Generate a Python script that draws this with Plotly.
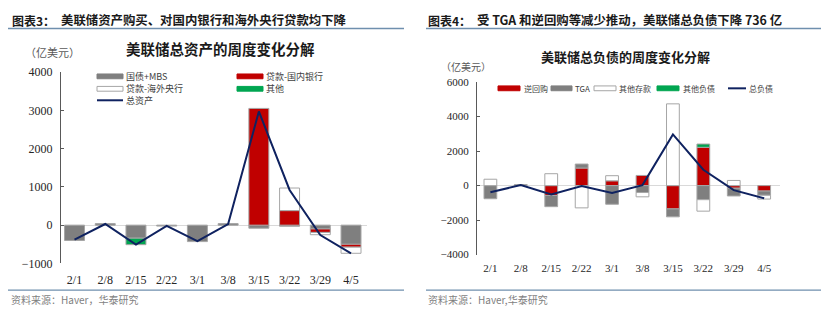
import plotly.graph_objects as go

W, H = 832, 324

# ---------------- data ----------------
dates = ["2/1", "2/8", "2/15", "2/22", "3/1", "3/8", "3/15", "3/22", "3/29", "4/5"]

# assets (left chart), 亿美元
treasury_mbs = [-400, 40, -340, -25, -430, 40, -80, -30, -100, -500]
loans_domestic = [None, None, None, None, None, None, 3050, 380, -90, -75]
loans_foreign = [None, None, None, None, None, None, None, 590, -60, -160]
other_assets = [None, None, -170, None, None, None, None, None, None, None]
total_assets = [-380, 30, -510, -20, -420, 30, 2970, 920, -260, -736]

# liabilities (right chart), 亿美元
reverse_repo = [None, None, -570, 1020, 280, 590, -1350, 2220, -150, -315]
tga = [-760, 60, -650, 230, -1080, -400, -460, -815, -450, -245]
other_deposits = [370, None, 690, -1290, 295, -250, 4740, -665, 300, -220]
other_liabilities = [None, None, None, None, None, None, None, 190, None, None]
total_liabilities = [-380, 30, -510, -20, -420, 30, 2970, 920, -260, -736]

left_yticks = [-1000, 0, 1000, 2000, 3000, 4000]
right_yticks = [-4000, -2000, 0, 2000, 4000, 6000]

# ---------------- styles ----------------
GRAY = "#7f7f7f"
RED = "#c00000"
GREEN = "#00a651"
WHITE = "#ffffff"
NAVY = "#0f2260"
EDGE = "#a6a6a6"
CJK = "Noto Sans CJK SC"
SERIF = "Liberation Serif"


def fx(x):
    return x / W


def fy(y):
    return 1 - y / H


fig = go.Figure()


def add_bar(vals, color, xa, ya, width):
    fig.add_trace(go.Bar(
        x=dates, y=vals, xaxis=xa, yaxis=ya, width=width,
        marker=dict(color=color, line=dict(color=EDGE, width=1)),
        showlegend=False, hoverinfo="skip"))


# left chart
for vals, col in [(treasury_mbs, GRAY), (loans_domestic, RED),
                  (loans_foreign, WHITE), (other_assets, GREEN)]:
    add_bar(vals, col, "x", "y", 0.65)
fig.add_trace(go.Scatter(x=dates, y=total_assets, xaxis="x", yaxis="y", mode="lines",
                         line=dict(color=NAVY, width=2), showlegend=False, hoverinfo="skip"))

# right chart
for vals, col in [(reverse_repo, RED), (tga, GRAY),
                  (other_deposits, WHITE), (other_liabilities, GREEN)]:
    add_bar(vals, col, "x2", "y2", 0.42)
fig.add_trace(go.Scatter(x=dates, y=total_liabilities, xaxis="x2", yaxis="y2", mode="lines",
                         line=dict(color=NAVY, width=2), showlegend=False, hoverinfo="skip"))

xcommon = dict(type="category", range=[-0.44, 9.52], showline=False, showgrid=False,
               zeroline=False, ticks="", fixedrange=True)
ycommon = dict(showgrid=False, showline=True, linecolor="#595959", linewidth=1,
               ticks="inside", ticklen=3, tickcolor="#595959", ticklabelstandoff=5,
               zeroline=True, zerolinecolor="#d9d9d9", zerolinewidth=1, fixedrange=True)

fig.update_layout(
    width=W, height=H, margin=dict(l=0, r=0, t=0, b=0),
    paper_bgcolor="white", plot_bgcolor="white",
    barmode="relative",
    xaxis=dict(xcommon, domain=[fx(61), fx(367)], anchor="y", ticklabelstandoff=8,
               tickfont=dict(family=SERIF, size=12, color="#262626")),
    yaxis=dict(ycommon, domain=[fy(268), fy(68)], anchor="x", range=[-1000, 4000],
               tickvals=left_yticks, tickfont=dict(family=SERIF, size=12, color="#262626")),
    xaxis2=dict(xcommon, domain=[fx(477), fx(780)], anchor="y2", ticklabelstandoff=5,
                tickfont=dict(family=SERIF, size=11, color="#262626")),
    yaxis2=dict(ycommon, domain=[fy(258.8), fy(78.5)], anchor="x2", range=[-4000, 6000],
                tickvals=right_yticks, tickfont=dict(family=SERIF, size=11, color="#262626")),
)

annotations = []
shapes = []


def text(x, y, s, size, color="#262626", anchor="left", bold=False, family=CJK):
    if bold:
        s = "<b>" + s + "</b>"
    annotations.append(dict(x=fx(x), y=fy(y), xref="paper", yref="paper", text=s,
                            showarrow=False, xanchor=anchor, yanchor="middle", borderpad=0,
                            font=dict(family=family, size=size, color=color)))


def hline(x0, x1, y, color, width):
    shapes.append(dict(type="line", xref="paper", yref="paper", x0=fx(x0), x1=fx(x1),
                       y0=fy(y), y1=fy(y), line=dict(color=color, width=width)))


def swatch(x0, x1, y, fill, h=5):
    shapes.append(dict(type="rect", xref="paper", yref="paper", x0=fx(x0), x1=fx(x1),
                       y0=fy(y - h / 2), y1=fy(y + h / 2), fillcolor=fill,
                       line=dict(color=EDGE if fill == WHITE else fill, width=1)))


# headers
text(11, 14, "图表3：", 12, "#1a1a1a", bold=True)
text(60, 14, "美联储资产购买、对国内银行和海外央行贷款均下降", 12.4, "#1a1a1a", bold=True)
text(427, 14, "图表4：", 12, "#1a1a1a", bold=True)
text(476, 14, "受 TGA 和逆回购等减少推动，美联储总负债下降 736 亿", 12.4, "#1a1a1a", bold=True)
hline(8, 404, 22.5, "#6f8fae", 1.5)
hline(426, 821, 22.5, "#6f8fae", 1.5)

# chart titles and units
text(220, 43, "美联储总资产的周度变化分解", 14.5, "#1a1a1a", anchor="center", bold=True)
text(625, 52, "美联储总负债的周度变化分解", 13, "#1a1a1a", anchor="center", bold=True)
text(24, 47, "（亿美元）", 11, "#595959")
text(440, 62, "（亿美元）", 10, "#595959")

# left legend
swatch(97, 123, 72.5, GRAY)
text(125, 72.5, "国债+MBS", 9, "#404040")
swatch(237, 263, 72.5, RED)
text(265, 72.5, "贷款-国内银行", 9, "#404040")
swatch(97, 123, 85.5, WHITE)
text(125, 85.5, "贷款-海外央行", 9, "#404040")
swatch(237, 263, 85.5, GREEN)
text(265, 85.5, "其他", 9, "#404040")
hline(97, 123, 97.5, NAVY, 2)
text(125, 97.5, "总资产", 9, "#404040")

# right legend
swatch(498, 520, 85, RED)
text(522.5, 85, "逆回购", 8, "#404040")
swatch(551, 572, 85, GRAY)
text(573.5, 85, "TGA", 8, "#404040")
swatch(594, 616, 85, WHITE)
text(618, 85, "其他存款", 8, "#404040")
swatch(657, 679, 85, GREEN)
text(681.5, 85, "其他负债", 8, "#404040")
hline(728, 746, 85, NAVY, 2)
text(748, 85, "总负债", 8, "#404040")

# footers
hline(8, 404, 296, "#6f8fae", 1.2)
hline(426, 821, 296, "#6f8fae", 1.2)
text(10, 306, "资料来源：Haver，华泰研究", 10, "#7f7f7f")
text(427, 306, "资料来源：Haver,华泰研究", 10, "#7f7f7f")

fig.update_layout(annotations=annotations, shapes=shapes)
fig.write_html("out.html")
